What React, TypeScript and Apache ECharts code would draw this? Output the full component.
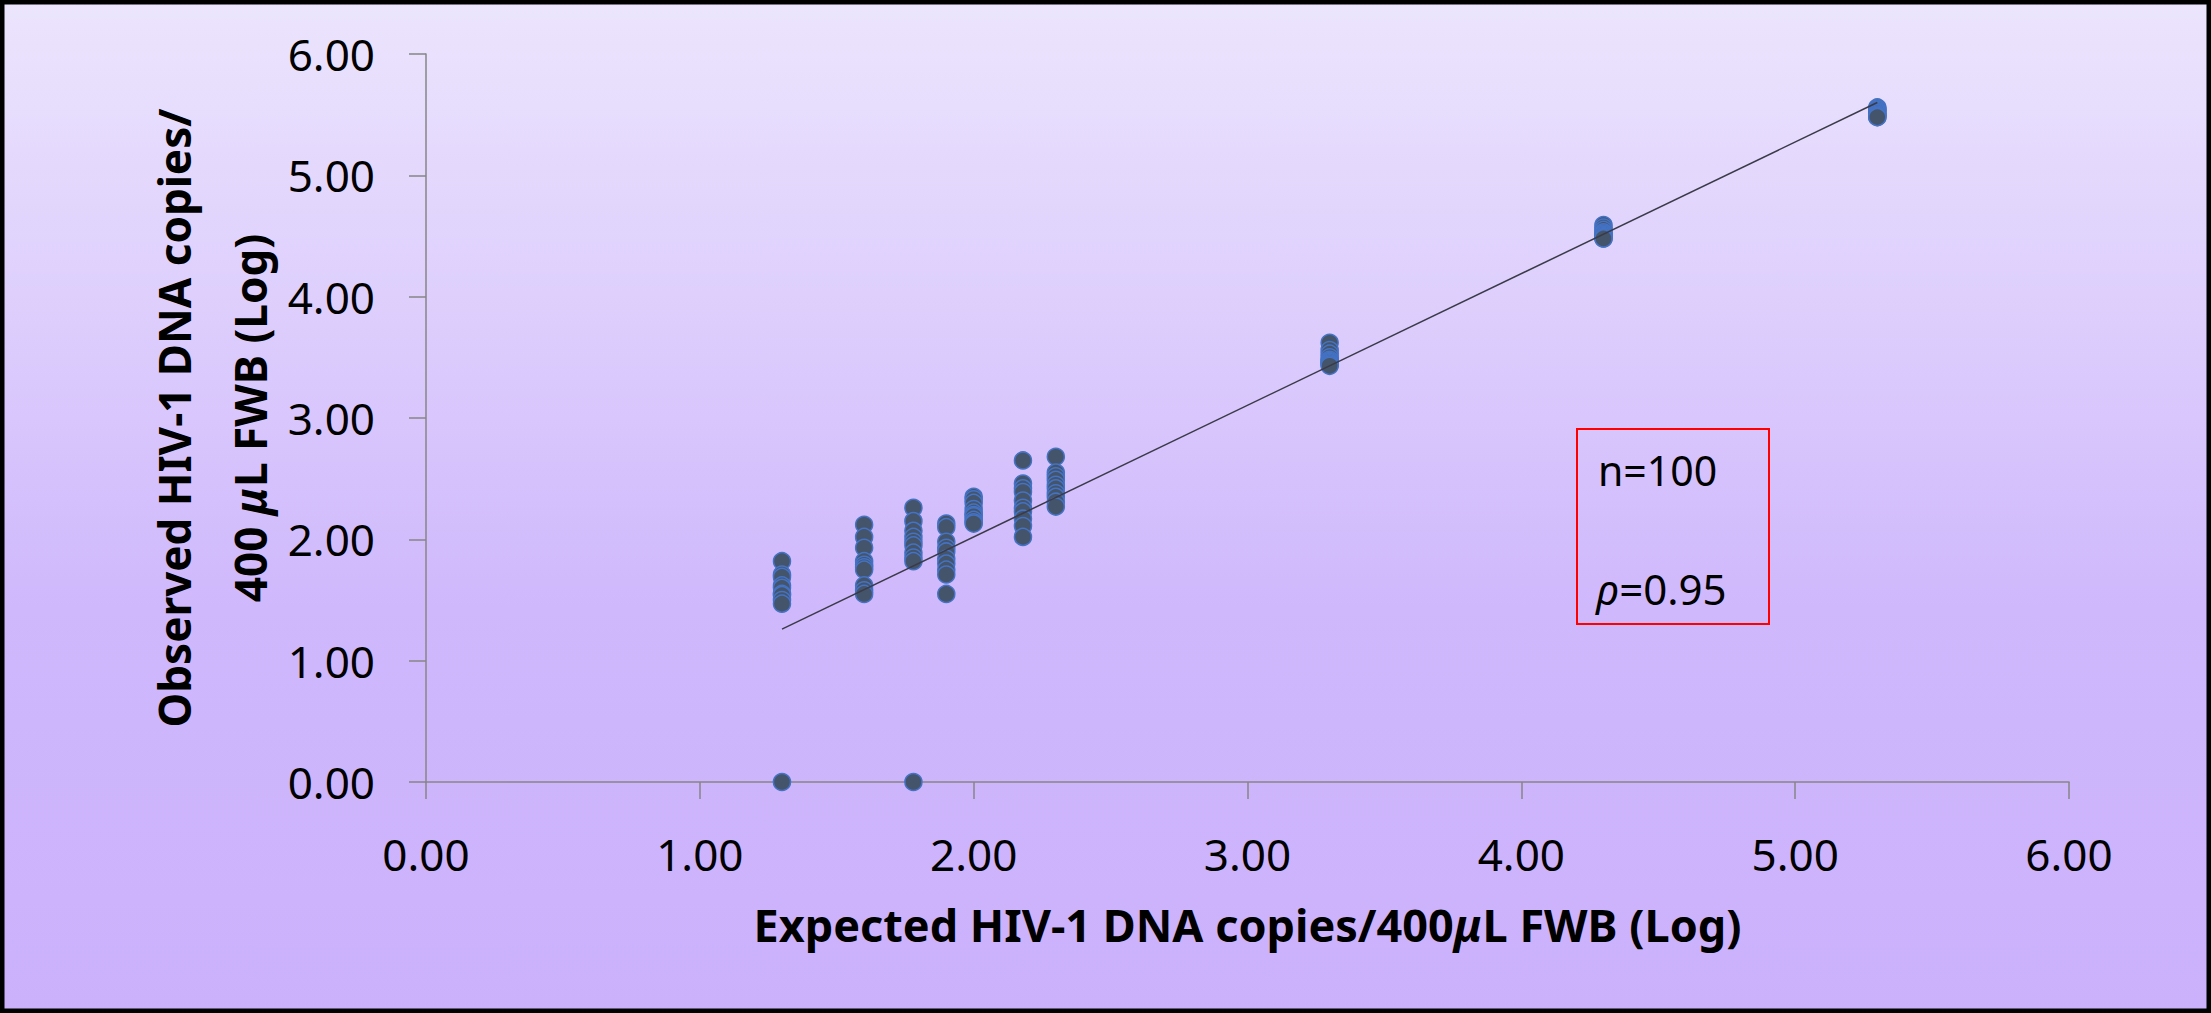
import React, { useEffect, useRef } from "react";
import * as echarts from "echarts";

// Expected input levels (log10 HIV-1 DNA copies / 400 µL FWB)
const expectedLevels = [1.3, 1.6, 1.78, 1.9, 2.0, 2.18, 2.3, 3.3, 4.3, 5.3];

// Observed log10 values measured at each expected level
const observedAt130 = [1.82, 1.71, 1.69, 1.62, 1.6, 1.55, 1.54, 1.5, 1.47, 0];
const observedAt160 = [2.12, 2.02, 1.93, 1.82, 1.79, 1.77, 1.75, 1.62, 1.58, 1.55];
const observedAt178 = [2.26, 2.15, 2.07, 2.02, 1.98, 1.95, 1.89, 1.85, 1.82, 0];
const observedAt190 = [2.13, 2.1, 1.98, 1.93, 1.9, 1.84, 1.8, 1.75, 1.71, 1.55];
const observedAt200 = [2.35, 2.33, 2.3, 2.25, 2.22, 2.2, 2.19, 2.16, 2.14, 2.13];
const observedAt218 = [2.65, 2.46, 2.42, 2.39, 2.32, 2.26, 2.23, 2.17, 2.11, 2.02];
const observedAt230 = [2.68, 2.55, 2.52, 2.49, 2.45, 2.42, 2.38, 2.35, 2.31, 2.27];
const observedAt330 = [3.62, 3.56, 3.53, 3.5, 3.48, 3.47, 3.46, 3.45, 3.44, 3.43];
const observedAt430 = [4.59, 4.57, 4.55, 4.53, 4.52, 4.51, 4.5, 4.49, 4.48, 4.48];
const observedAt530 = [5.56, 5.55, 5.54, 5.53, 5.52, 5.51, 5.5, 5.49, 5.48, 5.48];

const observedByLevel = [
  observedAt130,
  observedAt160,
  observedAt178,
  observedAt190,
  observedAt200,
  observedAt218,
  observedAt230,
  observedAt330,
  observedAt430,
  observedAt530,
];

// Linear trend line end points
const trendStart = [1.3, 1.26];
const trendEnd = [5.3, 5.6];

// Axis ticks
const axisMin = 0;
const axisMax = 6;
const axisStep = 1;

const sampleCount = "n=100";
const correlation = "0.95";

const FONT = "Noto Sans";

export default function App() {
  const ref = useRef<HTMLDivElement>(null);

  useEffect(() => {
    if (!ref.current) return;
    const chart = echarts.init(ref.current, undefined, { renderer: "svg" });

    const points: number[][] = [];
    expectedLevels.forEach((x, i) => {
      observedByLevel[i].forEach((y) => points.push([x, y]));
    });

    const axisColor = "#868686";
    const fmt = (v: number) => v.toFixed(2);

    chart.setOption({
      animation: false,
      backgroundColor: {
        type: "linear",
        x: 0,
        y: 0,
        x2: 0,
        y2: 1,
        colorStops: [
          { offset: 0, color: "#ECE5FD" },
          { offset: 0.6, color: "#CFB8FC" },
          { offset: 1, color: "#CBB1FC" },
        ],
      },
      grid: { left: 426, top: 54, right: 142, bottom: 231, containLabel: false },
      xAxis: {
        type: "value",
        min: axisMin,
        max: axisMax,
        interval: axisStep,
        name: "Expected HIV-1 DNA copies/400{it|μ}L FWB (Log)",
        nameLocation: "middle",
        nameGap: 120,
        nameMoveOverlap: false,
        nameTextStyle: {
          fontFamily: FONT,
          fontSize: 45,
          fontWeight: "bold",
          color: "#000",
          rich: {
            it: { fontFamily: FONT, fontSize: 45, fontWeight: "bold", fontStyle: "italic", color: "#000" },
          },
        },
        axisLine: { show: true, onZero: false, lineStyle: { color: axisColor, width: 1.5 } },
        axisTick: { show: true, inside: false, length: 17, lineStyle: { color: axisColor, width: 1.5 } },
        axisLabel: { formatter: fmt, fontFamily: FONT, fontSize: 44, color: "#000", margin: 50 },
        splitLine: { show: false },
      },
      yAxis: {
        type: "value",
        min: axisMin,
        max: axisMax,
        interval: axisStep,
        name: "Observed HIV-1 DNA copies/\n400 {it|μ}L FWB (Log)",
        nameLocation: "middle",
        nameRotate: 90,
        nameGap: 138,
        nameMoveOverlap: false,
        nameTextStyle: {
          fontFamily: FONT,
          fontSize: 44,
          fontWeight: "bold",
          color: "#000",
          lineHeight: 76,
          align: "center",
          rich: {
            it: { fontFamily: FONT, fontSize: 44, fontWeight: "bold", fontStyle: "italic", color: "#000", lineHeight: 76 },
          },
        },
        axisLine: { show: true, onZero: false, lineStyle: { color: axisColor, width: 1.5 } },
        axisTick: { show: true, inside: false, length: 17, lineStyle: { color: axisColor, width: 1.5 } },
        axisLabel: { formatter: fmt, fontFamily: FONT, fontSize: 44, color: "#000", margin: 51 },
        splitLine: { show: false },
      },
      series: [
        {
          type: "scatter",
          data: points,
          symbol: "circle",
          symbolSize: 17,
          itemStyle: { color: "#44546A", borderColor: "#4472C4", borderWidth: 1.5, opacity: 1 },
          z: 2,
        },
        {
          type: "line",
          data: [trendStart, trendEnd],
          symbol: "none",
          lineStyle: { color: "#3A3A48", width: 1.5 },
          z: 3,
        },
      ],
      graphic: [
        {
          type: "rect",
          shape: { x: 1577, y: 429, width: 192, height: 195 },
          style: { fill: "none", stroke: "#FF0000", lineWidth: 2 },
          silent: true,
        },
        {
          type: "text",
          x: 1598,
          y: 470,
          style: {
            text: sampleCount,
            fontFamily: FONT,
            fontSize: 41,
            fill: "#000",
            verticalAlign: "middle",
          },
          silent: true,
        },
        {
          type: "text",
          x: 1596,
          y: 588,
          style: {
            text: "{it|ρ}=" + correlation,
            fontFamily: FONT,
            fontSize: 42,
            fill: "#000",
            verticalAlign: "middle",
            rich: {
              it: { fontFamily: FONT, fontSize: 42, fontStyle: "italic", fill: "#000" },
            },
          },
          silent: true,
        },
        {
          type: "rect",
          shape: { x: 2, y: 2, width: 2207, height: 1009 },
          style: { fill: "none", stroke: "#000", lineWidth: 5 },
          silent: true,
          z: 100,
        },
      ],
    });

    return () => chart.dispose();
  }, []);

  return (
    <div
      ref={ref}
      style={{ position: "fixed", left: 0, top: 0, width: 2211, height: 1013 }}
    />
  );
}
